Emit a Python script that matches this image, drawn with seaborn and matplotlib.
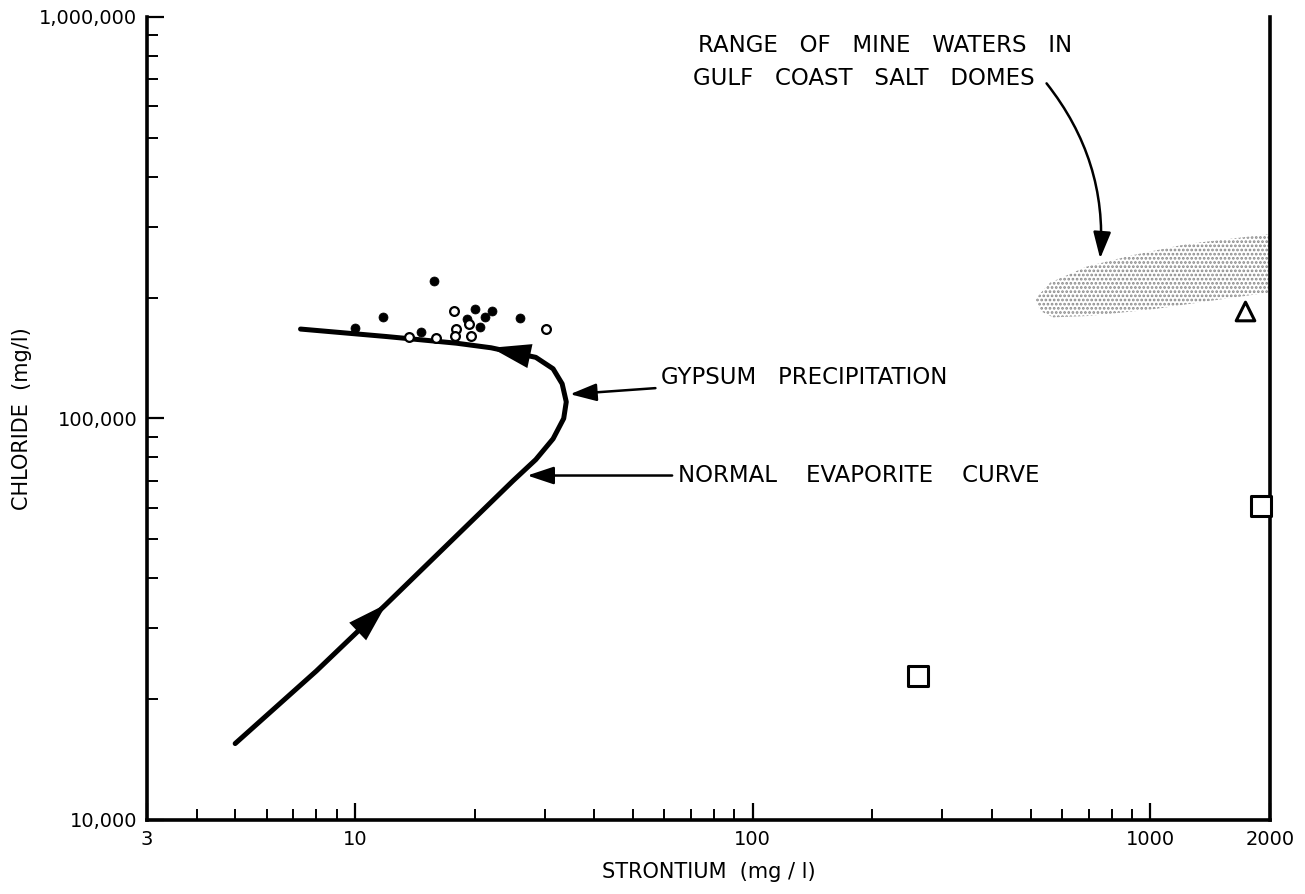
import numpy as np
import pandas as pd
import matplotlib
matplotlib.use("Agg")
import matplotlib.pyplot as plt
import matplotlib.ticker as mticker
import seaborn as sns

# --- Data ---
# normal evaporite curve, Sr vs Cl (mg/l)
curve_sr = [5.0, 8.0, 12.0, 18.0, 25.0, 28.5, 31.5, 33.5, 34.0, 33.2, 31.5, 28.5, 22.0, 18.0, 12.0, 7.3]
curve_cl = [15500, 23500, 34500, 51000, 70000, 79000, 89000, 100000, 110000,
            122000, 133000, 142000, 150000, 154000, 160000, 167000]

# samples (filled / open circles)
filled_sr = [10.0, 11.8, 15.8, 26.0, 20.0, 22.1, 20.6, 19.1, 14.7, 21.2]
filled_cl = [167600, 178600, 219700, 177500, 187000, 184800, 168600, 176600, 163900, 178600]
open_sr = [30.3, 17.8, 18.0, 17.9, 19.6, 13.7, 16.0, 19.4]
open_cl = [166700, 184800, 166700, 160200, 160200, 159300, 158300, 171600]

# other points
tri_sr = [1730]
tri_cl = [185000]
sq_sr = [260, 1900]
sq_cl = [22900, 60700]

# outline of the gulf coast mine-water range
range_sr = [513, 560, 692, 900, 1236, 2000, 2300, 2300, 2000, 1400, 1014, 700, 569, 530]
range_cl = [198000, 218000, 239000, 255000, 272000, 288000, 292000, 208000, 206000, 196000,
            187000, 180000, 178600, 185000]

# --- Plot ---
sns.set_style("ticks")
plt.rcParams["font.family"] = ["DejaVu Sans"]
plt.rcParams["text.color"] = "black"
plt.rcParams["axes.labelcolor"] = "black"
plt.rcParams["xtick.color"] = "black"
plt.rcParams["ytick.color"] = "black"
plt.rcParams["axes.edgecolor"] = "black"
plt.rcParams["hatch.linewidth"] = 1.3
plt.rcParams["hatch.color"] = "#8a8a8a"

fig = plt.figure(figsize=(13.05, 8.94), dpi=100)
ax = fig.add_axes([0.1126, 0.0828, 0.9732 - 0.1126, 0.981 - 0.0828])

curve_df = pd.DataFrame({"sr": curve_sr, "cl": curve_cl})
sns.lineplot(data=curve_df, x="sr", y="cl", sort=False, estimator=None,
             color="black", lw=3.6, ax=ax, solid_capstyle="round")

# arrow heads on the curve
for i in (2, 12):
    ax.annotate("", xy=(curve_sr[i], curve_cl[i]), xytext=(curve_sr[i - 1], curve_cl[i - 1]),
                arrowprops=dict(arrowstyle="-|>,head_length=1.3,head_width=0.4",
                                mutation_scale=22, color="black", lw=0, shrinkA=0, shrinkB=0))

sns.scatterplot(x=filled_sr, y=filled_cl, color="black", s=42, marker="o",
                edgecolor="black", ax=ax, zorder=4)
sns.scatterplot(x=open_sr, y=open_cl, facecolor="white", s=40, marker="o",
                edgecolor="black", linewidth=1.6, ax=ax, zorder=4)
sns.scatterplot(x=sq_sr, y=sq_cl, marker="s", s=190, facecolor="white",
                edgecolor="black", linewidth=2.2, ax=ax, zorder=4, clip_on=False)
sns.scatterplot(x=tri_sr, y=tri_cl, marker="^", s=180, facecolor="white",
                edgecolor="black", linewidth=2.2, ax=ax, zorder=4)

ax.fill(range_sr, range_cl, facecolor="none", edgecolor="#8a8a8a", hatch="....",
        lw=0, zorder=1)

ax.set_xscale("log")
ax.set_yscale("log")
ax.set_xlim(3, 2000)
ax.set_ylim(10000, 1000000)

# ticks
ax.xaxis.set_major_locator(mticker.FixedLocator([3, 10, 100, 1000, 2000]))
ax.xaxis.set_major_formatter(mticker.FixedFormatter(["3", "10", "100", "1000", "2000"]))
ax.xaxis.set_minor_locator(mticker.FixedLocator(
    [4, 5, 6, 7, 8, 9, 20, 30, 40, 50, 60, 70, 80, 90, 200, 300, 400, 500, 600, 700, 800, 900]))
ax.xaxis.set_minor_formatter(mticker.NullFormatter())
ax.yaxis.set_major_locator(mticker.FixedLocator([10000, 100000, 1000000]))
ax.yaxis.set_major_formatter(mticker.FixedFormatter(["10,000", "100,000", "1,000,000"]))
ax.yaxis.set_minor_locator(mticker.LogLocator(base=10, subs=np.arange(2, 10)))
ax.yaxis.set_minor_formatter(mticker.NullFormatter())

ax.tick_params(axis="both", which="major", direction="in", length=12, width=1.6,
               labelsize=14, pad=7)
ax.tick_params(axis="both", which="minor", direction="in", length=8, width=1.4)
ax.tick_params(axis="x", which="both", top=False)
ax.tick_params(axis="y", which="both", right=False)

for side in ("left", "bottom", "right"):
    ax.spines[side].set_linewidth(2.6)
ax.spines["top"].set_visible(False)

ax.set_xlabel("STRONTIUM  (mg / l)", fontsize=15, va="center")
ax.xaxis.set_label_coords(0.5, -0.0648)
ax.set_ylabel("CHLORIDE  (mg/l)", fontsize=15, va="center")
ax.yaxis.set_label_coords(-0.111, 0.5)

# annotations
txt = dict(fontsize=16.5, va="center", color="black")
ax.text(215, 851000, "RANGE   OF   MINE   WATERS   IN", ha="center", **txt)
ax.text(190, 704000, "GULF   COAST   SALT   DOMES", ha="center", **txt)
ax.annotate("", xy=(747, 246300), xytext=(543, 692000),
            arrowprops=dict(arrowstyle="-|>,head_length=0.9,head_width=0.3",
                            mutation_scale=18, color="black", lw=1.8,
                            connectionstyle="arc3,rad=-0.2"))

ax.annotate("GYPSUM   PRECIPITATION", xy=(34.2, 114800), xytext=(59, 126500),
            arrowprops=dict(arrowstyle="-|>,head_length=0.9,head_width=0.3",
                            mutation_scale=18, color="black", lw=1.8, shrinkA=2),
            ha="left", **txt)
ax.annotate("NORMAL    EVAPORITE    CURVE", xy=(26.7, 72100), xytext=(65, 72100),
            arrowprops=dict(arrowstyle="-|>,head_length=0.9,head_width=0.3",
                            mutation_scale=18, color="black", lw=1.8, shrinkA=2),
            ha="left", **txt)

fig.savefig("out.png", dpi=100)
